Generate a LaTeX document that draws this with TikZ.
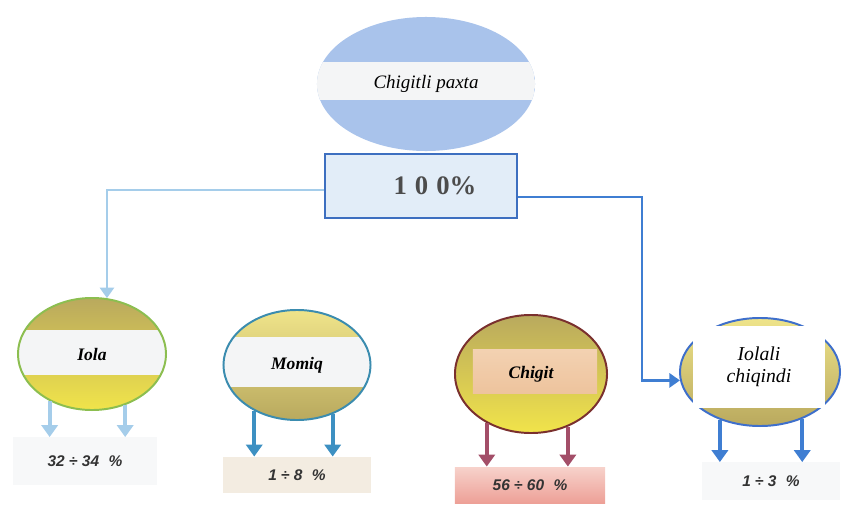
\documentclass[tikz,border=0pt]{standalone}
\usepackage{fontspec}
\setmainfont{Liberation Serif}
\setsansfont{Liberation Sans}
\usetikzlibrary{shapes.geometric,arrows.meta}

\definecolor{skyfill}{HTML}{A9C3EB}
\definecolor{bandwhite}{HTML}{F4F5F6}
\definecolor{pctfill}{HTML}{E2EDF8}
\definecolor{pctline}{HTML}{3D6FC0}
\definecolor{lightconn}{HTML}{A5CDEA}
\definecolor{darkconn}{HTML}{3F7ED2}
\definecolor{olive}{HTML}{B9A95E}
\definecolor{lemon}{HTML}{F1E44A}
\definecolor{palelemon}{HTML}{EFE48A}
\definecolor{leafline}{HTML}{8CBE50}
\definecolor{tealline}{HTML}{3B8CAF}
\definecolor{wineline}{HTML}{7A302E}
\definecolor{blueline}{HTML}{3E6FCB}
\definecolor{tealarrow}{HTML}{3D90C2}
\definecolor{winearrow}{HTML}{A34E68}
\definecolor{peachtop}{HTML}{F7DDC2}
\definecolor{peachbot}{HTML}{E9B68A}
\definecolor{rosetop}{HTML}{F7D2CB}
\definecolor{rosebot}{HTML}{EDA097}
\definecolor{beige}{HTML}{F3ECE1}
\definecolor{greywhite}{HTML}{F7F8F9}

\begin{document}
\begin{tikzpicture}[x=0.025cm,y=-0.025cm,semithick]
\tikzstyle{part}=[ellipse,inner sep=0pt,line width=1.4pt,font=\bfseries\itshape\fontsize{12.5}{14}\selectfont]
\tikzstyle{share}=[rectangle,inner sep=0pt,font=\sffamily\bfseries\itshape\fontsize{11}{13}\selectfont,text=black!80]
\tikzstyle{conn}=[-{Triangle[width=10pt,length=7.5pt]},line width=2pt]
\tikzstyle{outarrow}=[-{Triangle[width=11.5pt,length=8.5pt]},line width=2.8pt]
\useasboundingbox (0,0) rectangle (844,507);

% top: raw cotton and 100 %
\node[ellipse,inner sep=0pt,fill=skyfill,minimum width=5.45cm,minimum height=3.35cm,
  font=\itshape\fontsize{13.5}{15}\selectfont,
  path picture={\fill[bandwhite] ([yshift=-0.4cm]path picture bounding box.west) rectangle ([yshift=0.55cm]path picture bounding box.east);}]
  (paxta) at (426,84) {Chigitli paxta};
\node[draw=pctline,fill=pctfill,line width=1.5pt,minimum width=4.78cm,minimum height=1.58cm,
  font=\bfseries\fontsize{19}{21}\selectfont,text=black!70]
  (pct) at (421,186) {\hspace*{0.7cm}1\hspace{0.3em}0\hspace{0.3em}0\%};

% products
\node[part,draw=leafline,top color=olive,bottom color=lemon,minimum width=3.7cm,minimum height=2.8cm,
  path picture={\fill[bandwhite] ([yshift=-0.525cm]path picture bounding box.west) rectangle ([yshift=0.6cm]path picture bounding box.east);}]
  (iola) at (92,354) {Iola};
\node[part,draw=tealline,top color=palelemon,bottom color=olive,minimum width=3.675cm,minimum height=2.75cm,
  path picture={\fill[bandwhite] ([yshift=-0.55cm]path picture bounding box.west) rectangle ([yshift=0.7cm]path picture bounding box.east);}]
  (momiq) at (297,365) {Momiq};
\node[part,draw=wineline,top color=olive,bottom color=lemon,minimum width=3.8cm,minimum height=2.95cm,
  path picture={\shade[top color=peachtop,bottom color=peachbot] ([xshift=0.45cm,yshift=-0.475cm]path picture bounding box.west) rectangle ([xshift=-0.25cm,yshift=0.6cm]path picture bounding box.east);}]
  (chigit) at (531,374) {Chigit};
\node[part,draw=blueline,top color=palelemon,middle color=palelemon,bottom color=olive,minimum width=4cm,minimum height=2.7cm]
  (iolali) at (760,372) {};
\node[fill=white,minimum width=3.3cm,minimum height=2.025cm,align=center,
  font=\itshape\fontsize{14}{16}\selectfont]
  (iolalitxt) at (759,367) {Iolali\\chiqindi};

% shares
\node[share,fill=greywhite,minimum width=3.6cm,minimum height=1.175cm] (iolapct) at (85,461) {32 ÷ 34\,\, \%};
\node[share,fill=beige,minimum width=3.675cm,minimum height=0.9cm] (momiqpct) at (297,475) {1 ÷ 8\,\, \%};
\node[share,top color=rosetop,bottom color=rosebot,minimum width=3.75cm,minimum height=0.9cm] (chigitpct) at (530,485) {56 ÷ 60\,\, \%};
\node[share,fill=greywhite,minimum width=3.425cm,minimum height=0.925cm] (iolalipct) at (771,481) {1 ÷ 3\,\, \%};

% connectors
\draw[conn,lightconn] ([yshift=-0.1cm]pct.west) -| (iola.75);
\draw[conn,darkconn] ([yshift=-0.275cm]pct.east) -| ([xshift=-0.95cm]iolali.186) -- (iolali.186);

\draw[outarrow,lightconn] (iola.228) -- (iola.228 |- iolapct.north);
\draw[outarrow,lightconn] (iola.303) -- (iola.303 |- iolapct.north);
\draw[outarrow,tealarrow] (momiq.227) -- (momiq.227 |- momiqpct.north);
\draw[outarrow,tealarrow] (momiq.306) -- (momiq.306 |- momiqpct.north);
\draw[outarrow,winearrow] (chigit.228) -- (chigit.228 |- chigitpct.north);
\draw[outarrow,winearrow] (chigit.305) -- (chigit.305 |- chigitpct.north);
\draw[outarrow,darkconn] (iolali.230) -- (iolali.230 |- iolalipct.north);
\draw[outarrow,darkconn] (iolali.312) -- (iolali.312 |- iolalipct.north);
\end{tikzpicture}
\end{document}
